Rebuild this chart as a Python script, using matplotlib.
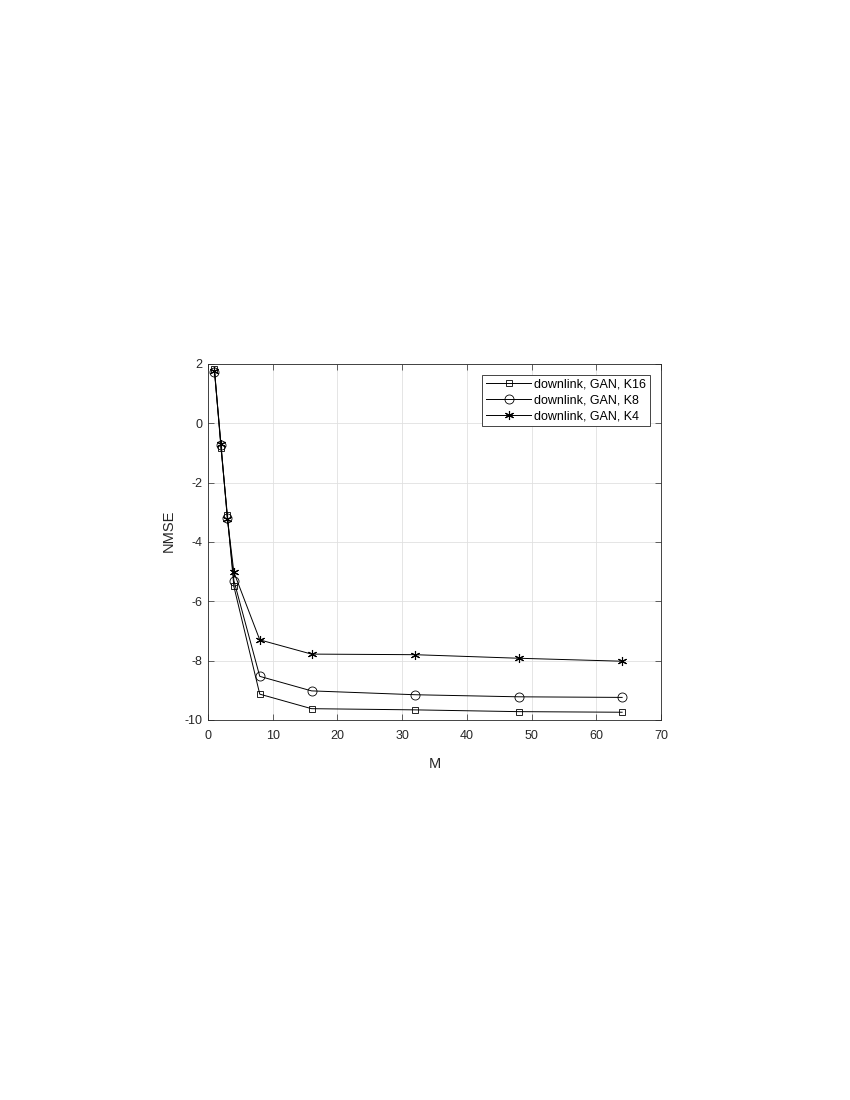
import matplotlib
matplotlib.use("Agg")
import matplotlib.pyplot as plt

M = [1, 2, 3, 4, 8, 16, 32, 48, 64]
nmse_k16 = [1.83, -0.82, -3.10, -5.50, -9.13, -9.62, -9.66, -9.72, -9.74]
nmse_k8 = [1.74, -0.72, -3.20, -5.30, -8.53, -9.02, -9.15, -9.22, -9.24]
nmse_k4 = [1.78, -0.70, -3.22, -5.02, -7.30, -7.78, -7.80, -7.92, -8.02]
labels = ["downlink, GAN, K16", "downlink, GAN, K8", "downlink, GAN, K4"]

plt.rcParams['font.family'] = ['Liberation Sans', 'DejaVu Sans']
fig = plt.figure(figsize=(8.5, 11), dpi=100)
ax = fig.add_axes([0.2447, 0.3455, 0.5329, 0.3236])

ax.plot(M, nmse_k16, color='black', lw=0.7, marker='s', ms=5, mfc='none', mew=0.6, label=labels[0])
ax.plot(M, nmse_k8, color='black', lw=0.7, marker='o', ms=6.5, mfc='none', mew=0.6, label=labels[1])
ax.plot(M, nmse_k4, color='black', lw=0.7, marker=(6, 2, 0), ms=6.5, mew=0.8, label=labels[2])

ax.set_xlim(0, 70)
ax.set_ylim(-10, 2)
ax.set_xticks(range(0, 71, 10))
ax.set_yticks(range(-10, 3, 2))
ax.set_yticklabels([str(v) for v in range(-10, 3, 2)])
ax.grid(True, color='#e0e0e0', lw=0.6)
ax.set_axisbelow(True)
ax.tick_params(direction='in', top=True, right=True, length=4, width=0.5, labelsize=9, colors='#262626')
ax.tick_params(axis='x', pad=7.5)
ax.tick_params(axis='y', pad=4)
for s in ax.spines.values():
    s.set_linewidth(0.6)
    s.set_color('#262626')

ax.set_xlabel('M', fontsize=10.5, color='#262626')
ax.xaxis.set_label_coords(0.5, -0.1236)
ax.xaxis.label.set_va('center')
ax.set_ylabel('NMSE', fontsize=10.5, color='#262626')
ax.yaxis.set_label_coords(-0.0872, 0.531)
ax.yaxis.label.set_rotation_mode('default')
ax.yaxis.label.set_va('center')
ax.yaxis.label.set_ha('center')

leg = ax.legend(loc='upper right', bbox_to_anchor=(0.9757, 0.969), fontsize=9, frameon=True,
                fancybox=False, edgecolor='#262626', framealpha=1, handlelength=3.6,
                borderaxespad=0, borderpad=0.3, labelspacing=0.3, handletextpad=0.24)
leg.get_frame().set_linewidth(0.6)

fig.savefig('out.png', dpi=100)
